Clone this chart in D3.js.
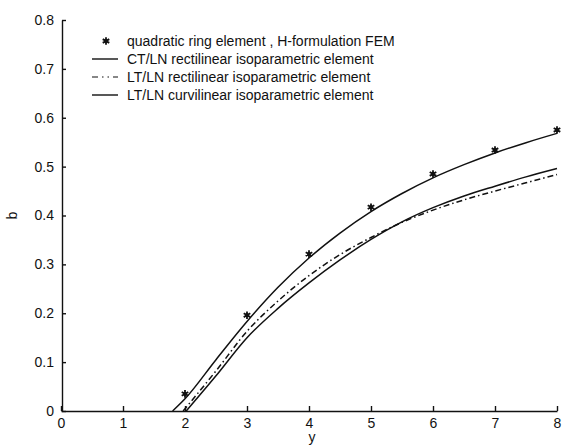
<!DOCTYPE html>
<html>
<head>
<meta charset="utf-8">
<script src="https://cdn.jsdelivr.net/npm/d3@7"></script>
<style>
  html, body { margin: 0; padding: 0; background: #fff; }
  svg { display: block; font-family: "Liberation Sans", Arial, sans-serif; }
  .axis path, .axis line { stroke: #111; stroke-width: 1.4; }
  .axis text { font-size: 14px; fill: #111; }
  .curve { fill: none; stroke: #111; stroke-width: 1.5; }
</style>
</head>
<body>
<svg id="chart"></svg>
<script>
// FEM points (quadratic ring element, H-formulation)
const femX = [2, 3, 4, 5, 6, 7, 8];
const femB = [0.035, 0.196, 0.321, 0.417, 0.485, 0.534, 0.575];

// upper solid curve
const upperX = [1.8, 2, 2.5, 3, 3.5, 4, 4.5, 5, 5.5, 6, 6.5, 7, 7.5, 8];
const upperB = [0, 0.025, 0.105, 0.183, 0.253, 0.313, 0.364, 0.408, 0.445, 0.477, 0.504, 0.528, 0.549, 0.568];

// lower solid curve
const lowerX = [2.02, 2.5, 3, 3.5, 4, 4.5, 5, 5.5, 6, 6.5, 7, 7.5, 8];
const lowerB = [0, 0.072, 0.15, 0.21, 0.262, 0.309, 0.351, 0.387, 0.416, 0.44, 0.46, 0.479, 0.496];

// dash-dot curve
const dashX = [1.97, 2.5, 3, 3.5, 4, 4.5, 5, 5.5, 6, 6.5, 7, 7.5, 8];
const dashB = [0, 0.082, 0.163, 0.225, 0.277, 0.32, 0.355, 0.386, 0.411, 0.432, 0.45, 0.467, 0.484];

const xTicks = [0, 1, 2, 3, 4, 5, 6, 7, 8];
const yTicks = [0, 0.1, 0.2, 0.3, 0.4, 0.5, 0.6, 0.7, 0.8];

const legendLabels = [
  "quadratic ring element , H-formulation FEM",
  "CT/LN rectilinear isoparametric element",
  "LT/LN rectilinear isoparametric element",
  "LT/LN curvilinear isoparametric element"
];
const legendStyles = ["marker", "solid", "dashdot", "solid"];

const width = 565, height = 447;
const svg = d3.select("#chart").attr("width", width).attr("height", height);

const x = d3.scaleLinear().domain([0, 8]).range([61, 557]);
const y = d3.scaleLinear().domain([0, 0.8]).range([411, 20]);

// Axes (ticks point inward)
svg.append("g")
  .attr("class", "axis")
  .attr("transform", `translate(0,${y(0)})`)
  .call(d3.axisBottom(x).tickValues(xTicks).tickSizeInner(-5).tickSizeOuter(0).tickPadding(7).tickFormat(d3.format("d")));

svg.append("g")
  .attr("class", "axis")
  .attr("transform", `translate(${x(0) + 1},0)`)
  .call(d3.axisLeft(y).tickValues(yTicks).tickSizeInner(-4).tickSizeOuter(0).tickPadding(8)
    .tickFormat((d) => (d === 0 ? "0" : d.toFixed(1))));

svg.selectAll(".axis text").attr("font-family", null);

// Axis titles
svg.append("text")
  .attr("x", 312).attr("y", 442)
  .attr("text-anchor", "middle")
  .style("font-size", "14px").style("fill", "#111")
  .text("y");

svg.append("text")
  .attr("transform", `translate(17,${y(0.4)}) rotate(-90)`)
  .attr("text-anchor", "middle")
  .style("font-size", "14px").style("fill", "#111")
  .text("b");

const line = d3.line()
  .x((d) => x(d[0]))
  .y((d) => y(d[1]))
  .curve(d3.curveMonotoneX);

svg.append("path").attr("class", "curve")
  .attr("d", line(d3.zip(upperX, upperB)));

svg.append("path").attr("class", "curve")
  .attr("d", line(d3.zip(lowerX, lowerB)));

svg.append("path").attr("class", "curve")
  .attr("stroke-width", 1.2)
  .attr("stroke-dasharray", "6,3,1.5,3")
  .attr("d", line(d3.zip(dashX, dashB)));

// Asterisk markers
const star = d3.symbol().type(d3.symbolAsterisk).size(40);
const drawMarker = (sel) => {
  sel.append("path").attr("d", star).attr("fill", "none").attr("stroke", "#111").attr("stroke-width", 1.8);
  sel.append("circle").attr("r", 2).attr("fill", "#111");
};

svg.selectAll(".fem")
  .data(d3.zip(femX, femB))
  .enter()
  .append("g")
  .attr("class", "fem")
  .attr("transform", (d) => `translate(${x(d[0])},${y(d[1])})`)
  .call(drawMarker);

// Legend
const legend = svg.append("g");
const rows = legend.selectAll(".row")
  .data(legendLabels)
  .enter()
  .append("g")
  .attr("class", "row")
  .attr("transform", (d, i) => `translate(0,${41 + i * 18})`);

rows.each(function (d, i) {
  const r = d3.select(this);
  const style = legendStyles[i];
  if (style === "marker") {
    r.append("g").attr("transform", "translate(106,0)").call(drawMarker);
  } else {
    r.append("line")
      .attr("x1", 92).attr("x2", 118)
      .attr("stroke", "#111")
      .attr("stroke-width", style === "dashdot" ? 1.2 : 1.4)
      .attr("stroke-dasharray", style === "dashdot" ? "6,4,1.5,4,1.5,4" : null);
  }
  r.append("text")
    .attr("x", 127).attr("dy", "0.35em")
    .style("font-size", "14px").style("fill", "#111")
    .text(d);
});
</script>
</body>
</html>
